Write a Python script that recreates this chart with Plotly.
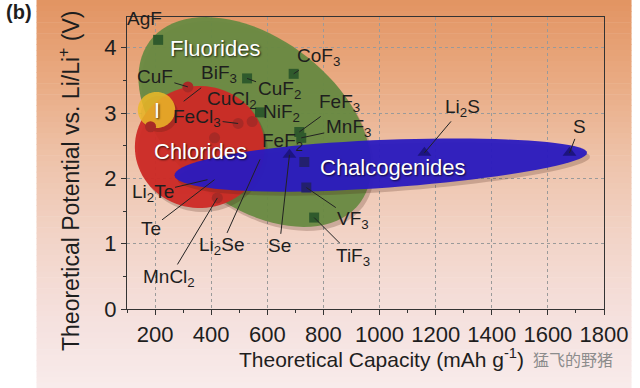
import numpy as np
import plotly.graph_objects as go

# ---------------- data ----------------
fluoride_x = [211, 528, 694, 574, 714, 721, 739, 767, 732]
fluoride_y = [4.12, 3.53, 3.60, 3.01, 2.71, 2.62, 1.86, 1.40, 2.25]
chloride_x = [317, 496, 546, 412, 184, 422]
chloride_y = [3.40, 2.84, 2.87, 2.62, 2.79, 1.70]
chalco_x = [679, 1160, 1677]
chalco_y = [2.36, 2.39, 2.39]

label_names = ["CuF", "BiF<sub>3</sub>", "CuCl<sub>2</sub>", "FeCl<sub>3</sub>", "CuF<sub>2</sub>",
               "CoF<sub>3</sub>", "FeF<sub>3</sub>", "MnF<sub>3</sub>", "Li<sub>2</sub>S", "S",
               "Li<sub>2</sub>Te", "Te", "MnCl<sub>2</sub>", "Li<sub>2</sub>Se", "Se",
               "VF<sub>3</sub>", "TiF<sub>3</sub>"]
label_x = [317, 302, 399, 496, 528, 694, 714, 721, 1160, 1677, 387, 412, 422, 574, 679, 739, 767]
label_y = [3.40, 3.18, 3.07, 2.84, 3.53, 3.60, 2.71, 2.62, 2.39, 2.39, 1.98, 1.98, 1.70, 2.29, 2.36, 1.86, 1.40]
label_ax = [-33, 35, 21, -41, 32, 25, 40, 47, 38, 10, -55, -64, -48, -39, -10, 47, 39]
label_ay = [-10, -27, -8, -5, 12, -17, -29, -10, -45, -26, 13, 49, 80, 87, 91, 32, 39]

plain_names = ["AgF", "NiF<sub>2</sub>", "FeF<sub>2</sub>"]
plain_x = [211, 574, 571]
plain_y = [4.12, 3.01, 2.66]
plain_dx = [-14, 21, 23]
plain_dy = [21, -1, -7]

x_ticks = [200, 400, 600, 800, 1000, 1200, 1400, 1600, 1800]
y_ticks = [0, 1, 2, 3, 4]

# ---------------- geometry helpers ----------------
XR = (100, 1800)
YR = (0, 4.47)
L, R, T, B = 127, 28, 17, 79
W, H = 640, 388
PW, PH = W - L - R, H - T - B
sx = PW / (XR[1] - XR[0])   # px per x unit
sy = PH / (YR[1] - YR[0])   # px per y unit

def px2x(px):
    return XR[0] + (px - L) / sx

def py2y(py):
    return YR[0] + (T + PH - py) / sy

def ellipse_path(cxp, cyp, a, b, ang_deg, k=0.0, n=90, dx=0, dy=0):
    t = np.linspace(0, 2 * np.pi, n, endpoint=False)
    bb = b * (1 - k * np.cos(t))
    ex = a * np.cos(t)
    ey = bb * np.sin(t)
    th = np.deg2rad(ang_deg)
    X = cxp + dx + ex * np.cos(th) - ey * np.sin(th)
    Y = cyp + dy + ex * np.sin(th) + ey * np.cos(th)
    pts = [f"{px2x(x):.3f},{py2y(y):.4f}" for x, y in zip(X, Y)]
    return "M" + " L".join(pts) + " Z"

FONT = "Liberation Sans, Arial, Helvetica, sans-serif"
LBL = 19

fig = go.Figure()

shapes = []
# background gradient (paper)
stops_py = [0, 80, 160, 240, 320, 388]
stops_c = [(226, 148, 98), (233, 170, 130), (238, 195, 170), (242, 212, 200), (245, 225, 222), (248, 235, 235)]
nstrip = 70
for i in range(nstrip):
    p0 = i * H / nstrip
    p1 = (i + 1) * H / nstrip + 0.6
    pm = (p0 + p1) / 2
    c = [np.interp(pm, stops_py, [s[j] for s in stops_c]) for j in range(3)]
    shapes.append(dict(type="rect", xref="paper", yref="paper", layer="below",
                       x0=(35 - L) / PW, x1=(W - L) / PW,
                       y0=(T + PH - p1) / PH, y1=(T + PH - p0) / PH,
                       line=dict(width=0), fillcolor=f"rgb({c[0]:.0f},{c[1]:.0f},{c[2]:.0f})"))

ell = [
    # cx, cy, a, b, angle, k, color
    (257, 122, 134, 84, 37, 0.0, "rgba(104,138,66,0.95)"),
    (201, 147, 66, 61, 0, 0.0, "rgba(206,42,38,0.95)"),
    (157, 110, 19, 18, 0, 0.0, "rgba(236,184,40,0.85)"),
    (385, 164, 210, 24, -3.1, 0.12, "rgba(42,26,192,0.95)"),
]
for cx, cy, a, b, ang, k, col in ell:
    shapes.append(dict(type="path", xref="x", yref="y", layer="between",
                       path=ellipse_path(cx, cy, a, b, ang, k, dx=3, dy=4),
                       line=dict(width=0), fillcolor="rgba(70,30,20,0.22)"))
    shapes.append(dict(type="path", xref="x", yref="y", layer="between",
                       path=ellipse_path(cx, cy, a, b, ang, k),
                       line=dict(width=0), fillcolor=col))

fl_col = ["#2f5a2c"] * 6 + ["#23206e", "#2f5a2c", "#23206e"]
fig.add_trace(go.Scatter(x=fluoride_x, y=fluoride_y, mode="markers",
                         marker=dict(symbol="square", size=10, color=fl_col), hoverinfo="skip"))
fig.add_trace(go.Scatter(x=chloride_x, y=chloride_y, mode="markers",
                         marker=dict(symbol="circle", size=11, color="#a82a26"), hoverinfo="skip"))
fig.add_trace(go.Scatter(x=chalco_x, y=chalco_y, mode="markers",
                         marker=dict(symbol="triangle-up", size=12, color="#1c1480"), hoverinfo="skip"))

ann = []
for n, x, y, ax, ay in zip(label_names, label_x, label_y, label_ax, label_ay):
    ann.append(dict(x=x, y=y, xref="x", yref="y", text=n, showarrow=True, arrowhead=0,
                    arrowwidth=1, arrowcolor="#222", ax=ax, ay=ay, standoff=0,
                    font=dict(family=FONT, size=LBL, color="#1e1e1e")))
for n, x, y, dx, dy in zip(plain_names, plain_x, plain_y, plain_dx, plain_dy):
    ann.append(dict(x=x, y=y, xref="x", yref="y", text=n, showarrow=False,
                    xshift=dx, yshift=dy, font=dict(family=FONT, size=LBL, color="#1e1e1e")))

for txt, px, py, sz in [("Fluorides", 216, 48, 22), ("Chlorides", 202, 151, 22),
                        ("Chalcogenides", 397, 167, 22), ("I", 157, 110, 22)]:
    ann.append(dict(x=px2x(px), y=py2y(py), xref="x", yref="y", text=txt, showarrow=False,
                    font=dict(family=FONT, size=sz, color="white",
                              shadow="1px 1px 2px rgba(0,0,0,0.75)")))

def paper_ann(text, px, py, size, color="#1e1e1e", family=FONT, angle=0):
    return dict(x=(px - L) / PW, y=(T + PH - py) / PH, xref="paper", yref="paper",
                xanchor="center", yanchor="middle", text=text, showarrow=False,
                textangle=angle, font=dict(family=family, size=size, color=color))

ann.append(paper_ann("Theoretical Capacity (mAh g<sup>-1</sup>)", 386, 358, 21))
ann.append(paper_ann("Theoretical Potential vs. Li/Li<sup>+</sup> (V)", 68, 180, 23, angle=-90))
ann.append(paper_ann("<b>(b)</b>", 17, 12, 20))
ann.append(paper_ann("猛飞的野猪", 580, 359, 16, color="#8c8c8c", family="Noto Sans CJK SC"))

axis_common = dict(showline=True, linecolor="#333", linewidth=1.2, mirror=True,
                   ticks="outside", ticklen=5, tickwidth=1, tickcolor="#333",
                   showgrid=True, gridcolor="#9a9a9a", griddash="dot", gridwidth=1,
                   zeroline=False, tickfont=dict(family=FONT, size=22, color="#1e1e1e"))

fig.update_layout(
    width=W, height=H, margin=dict(l=L, r=R, t=T, b=B),
    paper_bgcolor="white", plot_bgcolor="rgba(0,0,0,0)",
    showlegend=False, shapes=shapes, annotations=ann,
    xaxis=dict(range=list(XR), tickvals=x_ticks,
               minor=dict(dtick=100, tick0=100, ticks="outside", ticklen=3, tickcolor="#333", showgrid=False),
               **axis_common),
    yaxis=dict(range=list(YR), tickvals=y_ticks,
               minor=dict(dtick=0.5, tick0=0, ticks="outside", ticklen=3, tickcolor="#333", showgrid=False),
               **axis_common),
)
fig.write_html("out.html")
